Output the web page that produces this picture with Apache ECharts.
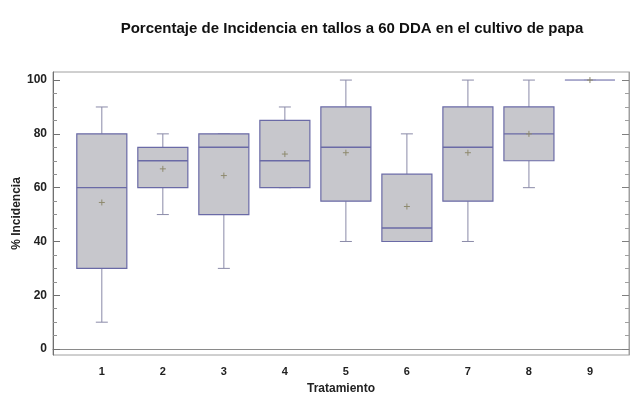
<!DOCTYPE html>
<html>
<head>
<meta charset="utf-8">
<script src="https://cdn.jsdelivr.net/npm/echarts@6/dist/echarts.min.js"></script>
<style>
  html, body { margin: 0; padding: 0; background: #ffffff; }
  #chart { width: 632px; height: 394px; }
</style>
</head>
<body>
<div id="chart"></div>
<script>
// Box-and-whisker summary per treatment
const treatments  = [1, 2, 3, 4, 5, 6, 7, 8, 9];
const lowWhisker  = [10, 50, 30, 60, 40, 40, 40, 60, 100];
const q1          = [30, 60, 50, 60, 55, 40, 55, 70, 100];
const median      = [60, 70, 75, 70, 75, 45, 75, 80, 100];
const q3          = [80, 75, 80, 85, 90, 65, 90, 90, 100];
const highWhisker = [90, 80, 80, 90, 100, 80, 100, 100, 100];
const mean        = [54.5, 67, 64.5, 72.5, 73, 53, 73, 80, 100];

const yMajorTicks = [0, 20, 40, 60, 80, 100];
const yMinorTicks = [5, 10, 15, 25, 30, 35, 45, 50, 55, 65, 70, 75, 85, 90, 95];

const rows = treatments.map((t, i) => [t, lowWhisker[i], q1[i], median[i], q3[i], highWhisker[i], mean[i]]);

const BOX_HALF = 0.41;   // half box width, in treatment units
const CAP_HALF = 6;      // whisker cap half width, px
const FILL = '#c7c7cc';
const EDGE = '#6a6aa6';
const WHISK = '#8a8aa8';
const MEAN = '#8e8a6e';

function renderBox(params, api) {
  const x = api.value(0);
  const pLo = api.coord([x, api.value(1)]);
  const pQ1 = api.coord([x, api.value(2)]);
  const pMed = api.coord([x, api.value(3)]);
  const pQ3 = api.coord([x, api.value(4)]);
  const pHi = api.coord([x, api.value(5)]);
  const pMean = api.coord([x, api.value(6)]);
  const left = api.coord([x - BOX_HALF, 0])[0];
  const right = api.coord([x + BOX_HALF, 0])[0];
  const cx = pMed[0];
  const flat = pQ1[1] - pQ3[1] < 0.5;
  const line = (x1, y1, x2, y2, color, w) => ({
    type: 'line',
    shape: { x1, y1, x2, y2 },
    style: { stroke: color, lineWidth: w }
  });
  const children = [
    line(cx, pQ3[1], cx, pHi[1], WHISK, 1),
    line(cx, pQ1[1], cx, pLo[1], WHISK, 1),
    line(cx - CAP_HALF, pHi[1], cx + CAP_HALF, pHi[1], WHISK, 1),
    line(cx - CAP_HALF, pLo[1], cx + CAP_HALF, pLo[1], WHISK, 1),
    {
      type: 'rect',
      shape: { x: left, y: pQ3[1], width: right - left, height: pQ1[1] - pQ3[1] },
      style: { fill: FILL, stroke: flat ? '#a4a4c8' : EDGE, lineWidth: flat ? 1 : 1.2 }
    },
    line(left, pMed[1], right, pMed[1], flat ? '#a4a4c8' : EDGE, flat ? 1 : 1.4),
    line(pMean[0] - 3, pMean[1], pMean[0] + 3, pMean[1], MEAN, 1),
    line(pMean[0], pMean[1] - 3, pMean[0], pMean[1] + 3, MEAN, 1)
  ];
  return { type: 'group', children };
}

const labelFont = { fontFamily: 'Liberation Sans, Arial, sans-serif', fontWeight: 'bold', color: '#222' };
const yRange = { min: -2.2, max: 103 };

const chart = echarts.init(document.getElementById('chart'), null, { renderer: 'canvas' });
chart.setOption({
  animation: false,
  backgroundColor: '#ffffff',
  title: {
    text: 'Porcentaje de Incidencia en tallos a 60 DDA en el cultivo de papa',
    left: 347,
    top: 16,
    textAlign: 'center',
    textStyle: { fontFamily: 'Liberation Sans, Arial, sans-serif', fontWeight: 'bold', fontSize: 15, color: '#111' }
  },
  grid: {
    left: 53, right: 3, top: 72, bottom: 39,
    outerBoundsMode: 'none',
    containLabel: false,
    show: true, borderColor: '#a0a0a0', borderWidth: 1, backgroundColor: 'transparent'
  },
  xAxis: {
    type: 'value',
    min: 0.2,
    max: 9.64,
    name: 'Tratamiento',
    nameLocation: 'middle',
    nameGap: 28,
    nameMoveOverlap: false,
    nameTextStyle: Object.assign({ fontSize: 12 }, labelFont),
    axisLine: { show: true, lineStyle: { color: '#8a8a8a' } },
    axisTick: { show: false },
    splitLine: { show: false },
    axisLabel: Object.assign({ customValues: treatments, margin: 11, fontSize: 11 }, labelFont)
  },
  yAxis: [
    Object.assign({
      type: 'value',
      position: 'left',
      name: '% Incidencia',
      nameLocation: 'middle',
      nameGap: 30,
      nameMoveOverlap: false,
      nameTextStyle: Object.assign({ fontSize: 12 }, labelFont),
      axisLine: { show: true, lineStyle: { color: '#707070' } },
      axisTick: { show: true, inside: true, length: 7, customValues: yMajorTicks, lineStyle: { color: '#707070' } },
      axisLabel: Object.assign({ customValues: yMajorTicks, margin: 6, fontSize: 12 }, labelFont),
      splitLine: { show: false }
    }, yRange),
    Object.assign({
      type: 'value',
      position: 'left',
      axisLine: { show: false },
      axisTick: { show: true, inside: true, length: 4, customValues: yMinorTicks, lineStyle: { color: '#909090' } },
      axisLabel: { show: false },
      splitLine: { show: false }
    }, yRange),
    Object.assign({
      type: 'value',
      position: 'right',
      axisLine: { show: true, lineStyle: { color: '#a0a0a0' } },
      axisTick: { show: true, inside: true, length: 7, customValues: yMajorTicks, lineStyle: { color: '#808080' } },
      axisLabel: { show: false },
      splitLine: { show: false }
    }, yRange),
    Object.assign({
      type: 'value',
      position: 'right',
      axisLine: { show: false },
      axisTick: { show: true, inside: true, length: 4, customValues: yMinorTicks, lineStyle: { color: '#a0a0a0' } },
      axisLabel: { show: false },
      splitLine: { show: false }
    }, yRange)
  ],
  series: [{
    type: 'custom',
    xAxisIndex: 0,
    yAxisIndex: 0,
    renderItem: renderBox,
    encode: { x: 0, y: [1, 2, 3, 4, 5, 6] },
    data: rows,
    clip: false
  }]
});
</script>
</body>
</html>
